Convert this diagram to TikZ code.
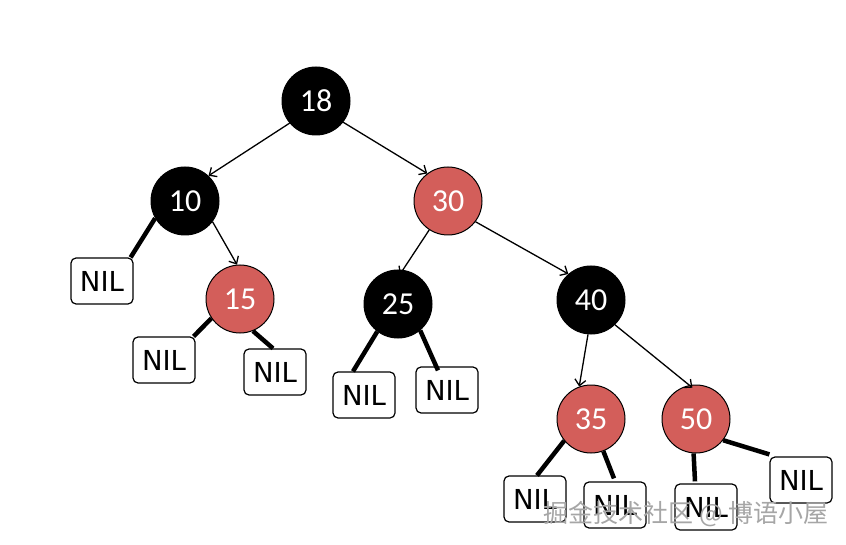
\documentclass[tikz,border=0pt]{standalone}
\usepackage{fontspec}
\setmainfont{Carlito}
\newfontfamily\nilfont{DejaVu Sans}
\newfontfamily\cjkfont{Noto Sans CJK SC}
\usetikzlibrary{arrows.meta}
\definecolor{rbred}{RGB}{211,94,90}
\tikzset{
  blk/.style={circle, fill=black, draw=black, line width=1pt, minimum size=68pt, inner sep=0pt, text=white, font=\fontsize{32}{32}\selectfont},
  rd/.style={blk, fill=rbred},
  nilbox/.style={draw=black, fill=white, line width=1.2pt, rounded corners=5pt, minimum width=62pt, minimum height=46pt, inner sep=0pt, font=\nilfont\fontsize{27.5}{27.5}\selectfont},
  arr/.style={line width=1.3pt, -{Straight Barb[length=6pt,width=11pt]}},
  thick link/.style={line width=4.5pt}
}
\begin{document}
\begin{tikzpicture}[x=1pt,y=-1pt]
\useasboundingbox (0,0) rectangle (846,545);
\node[blk] (n18) at (316,101) {18};
\node[blk] (n10) at (185,201) {10};
\node[rd]  (n30) at (448,201) {30};
\node[rd]  (n15) at (240,299) {15};
\node[blk] (n25) at (398,304) {25};
\node[blk] (n40) at (591,300) {40};
\node[rd]  (n35) at (591,419) {35};
\node[rd]  (n50) at (696,419) {50};

\node[nilbox] (l1) at (102,281) {NIL};
\node[nilbox] (l2) at (164,360) {NIL};
\node[nilbox] (l3) at (275,372) {NIL};
\node[nilbox] (l4) at (364,395) {NIL};
\node[nilbox] (l5) at (447,390) {NIL};
\node[nilbox] (l6) at (535,499) {NIL};
\node[nilbox] (l7) at (615,505) {NIL};
\node[nilbox] (l8) at (706,507) {NIL};
\node[nilbox] (l9) at (801,480) {NIL};

\draw[arr] (n18.220) -- (n10.47);
\draw[arr] (n18.322) -- (n30.127);
\draw[arr] (n10.323) -- (n15.95);
\draw[arr] (n30.237) -- ([yshift=-5pt]n25.87);
\draw[arr] (n30.323) -- (n40.131);
\draw[arr] (n40.265) -- (n35.110);
\draw[arr] (n40.314) -- ([yshift=-3pt]n50.96);

\draw[thick link] (n10.210) -- ([xshift=-3pt]l1.north east);
\draw[thick link] (n15.214) -- ([xshift=-2pt]l2.north east);
\draw[thick link] (n15.292) -- ([xshift=-2pt]l3.north);
\draw[thick link] (n25.233) -- ([xshift=-11pt]l4.north);
\draw[thick link] (n25.310) -- ([xshift=-9pt,yshift=-4pt]l5.north);
\draw[thick link] (n35.219) -- ([xshift=2pt]l6.north);
\draw[thick link] (n35.291) -- ([xshift=-1pt,yshift=3pt]l7.north);
\draw[thick link] (n50.266) -- ([xshift=-11pt,yshift=2pt]l8.north);
\draw[thick link] (n50.322) -- ([yshift=2pt]l9.north west);

\node[anchor=center, text=black!35, font=\cjkfont\fontsize{25}{25}\selectfont] (wm) at (686,514) {掘金技术社区 @ 博语小屋};
\end{tikzpicture}
\end{document}
